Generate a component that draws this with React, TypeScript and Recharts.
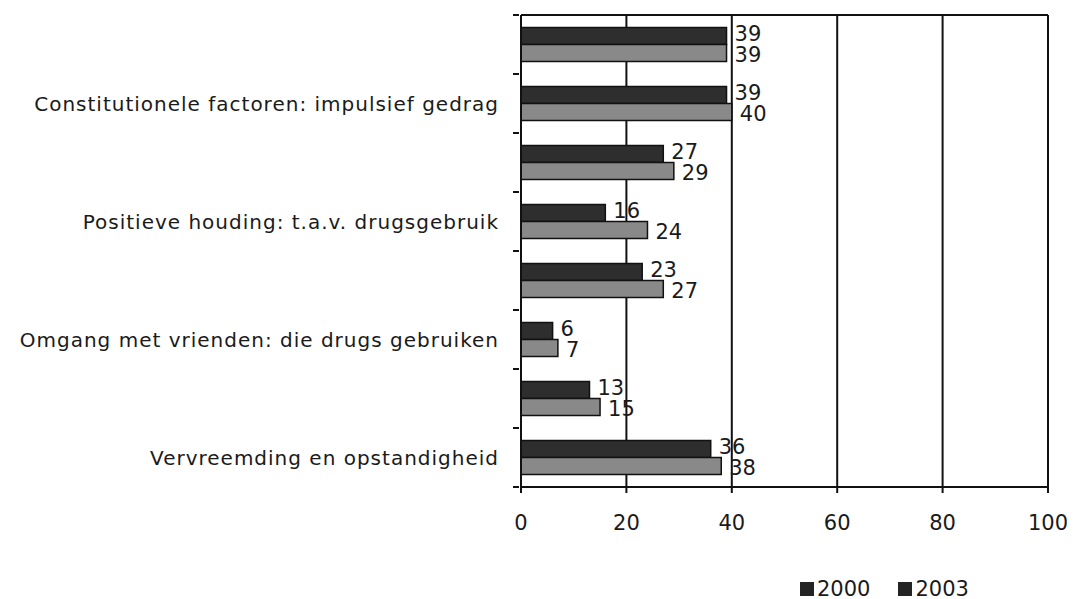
import { Bar, BarChart, CartesianGrid, LabelList, XAxis, YAxis } from "recharts";

const categories = ["c1", "c2", "c3", "c4", "c5", "c6", "c7", "c8"];
const categoryLabels = [
  "",
  "Constitutionele factoren: impulsief gedrag",
  "",
  "Positieve houding: t.a.v. drugsgebruik",
  "",
  "Omgang met vrienden: die drugs gebruiken",
  "",
  "Vervreemding en opstandigheid",
];
const values2000 = [39, 39, 27, 16, 23, 6, 13, 36];
const values2003 = [39, 40, 29, 24, 27, 7, 15, 38];
const xTicks = [0, 20, 40, 60, 80, 100];
const seriesNames = ["2000", "2003"];

const data = categories.map((c, i) => ({
  id: c,
  y2000: values2000[i],
  y2003: values2003[i],
}));

const FONT = "'DejaVu Sans', sans-serif";
const W = 1059;
const H = 591;
const M = { top: 7, right: 19, bottom: 82, left: 0 };
const X_AXIS_H = 30;
const Y_AXIS_W = 513;
const BAND = (H - M.top - M.bottom - X_AXIS_H) / categories.length;

// tick marks sit on the category boundaries, labels in the middle
function CategoryTick(props: any) {
  const { x, y, index } = props;
  const label = categoryLabels[index] ?? "";
  return (
    <g>
      <line x1={x - 6} x2={x} y1={y - BAND / 2} y2={y - BAND / 2} stroke="#111" strokeWidth={2} />
      {index === categories.length - 1 && (
        <line x1={x - 6} x2={x} y1={y + BAND / 2} y2={y + BAND / 2} stroke="#111" strokeWidth={2} />
      )}
      <text x={x - 20} y={y} dy="0.35em" textAnchor="end" fontSize={20} letterSpacing={1} fill="#1a1a1a" fontFamily={FONT}>
        {label}
      </text>
    </g>
  );
}

function ChartLegend() {
  return (
    <div
      style={{
        position: "absolute",
        left: 792,
        top: 570,
        display: "flex",
        fontFamily: FONT,
        fontSize: 21,
        lineHeight: "22px",
        color: "#1a1a1a",
      }}
    >
      {seriesNames.map((name) => (
        <div key={name} style={{ display: "flex", alignItems: "center", marginRight: 28 }}>
          <span style={{ display: "inline-block", width: 14, height: 14, background: "#242424", marginRight: 3 }} />
          <span>{name}</span>
        </div>
      ))}
    </div>
  );
}

export default function App() {
  return (
    <div style={{ position: "relative", width: W, height: H }}>
      <BarChart
        width={W}
        height={H}
        data={data}
        layout="vertical"
        margin={M}
        barCategoryGap="21%"
        barGap={0}
      >
        <CartesianGrid
          stroke="#111"
          strokeWidth={2}
          horizontalCoordinatesGenerator={({ offset }: any) => [offset.top]}
        />
        <XAxis
          type="number"
          domain={[0, 100]}
          ticks={xTicks}
          height={X_AXIS_H}
          axisLine={{ stroke: "#111", strokeWidth: 2 }}
          tickLine={{ stroke: "#111", strokeWidth: 2 }}
          tickSize={6}
          tickMargin={22}
          tick={{ fontSize: 21, fill: "#1a1a1a", fontFamily: FONT }}
        />
        <YAxis
          type="category"
          dataKey="id"
          width={Y_AXIS_W}
          axisLine={{ stroke: "#111", strokeWidth: 2 }}
          tickLine={false}
          tickSize={0}
          tick={<CategoryTick />}
          interval={0}
        />
        <Bar dataKey="y2000" name={seriesNames[0]} fill="#2e2e2e" stroke="#111" strokeWidth={1.5} isAnimationActive={false}>
          <LabelList dataKey="y2000" position="right" offset={8} dy={-2} fontSize={21} fill="#1a1a1a" fontFamily={FONT} />
        </Bar>
        <Bar dataKey="y2003" name={seriesNames[1]} fill="#898989" stroke="#111" strokeWidth={1.5} isAnimationActive={false}>
          <LabelList dataKey="y2003" position="right" offset={8} dy={2} fontSize={21} fill="#1a1a1a" fontFamily={FONT} />
        </Bar>
      </BarChart>
      <ChartLegend />
    </div>
  );
}
